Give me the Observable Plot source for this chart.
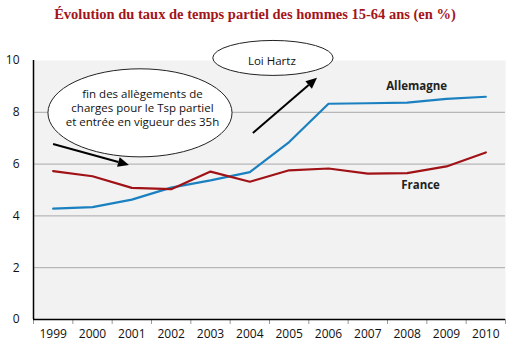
<!DOCTYPE html>
<html>
<head>
<meta charset="utf-8">
<script src="https://cdn.jsdelivr.net/npm/d3@7"></script>
<script src="https://cdn.jsdelivr.net/npm/@observablehq/plot@0.6"></script>
<style>
  html, body { margin: 0; padding: 0; background: #fff; }
  #title { width: 510px; height: 30px; box-sizing: border-box; padding-top: 6px; text-align: center;
    font-family: "Liberation Serif", "DejaVu Serif", serif; font-weight: bold; font-size: 14.5px; color: #a3141c; }
  svg { display: block; }
</style>
</head>
<body>
<div id="title">Évolution du taux de temps partiel des hommes 15-64 ans (en %)</div>
<div id="chart"></div>
<script>
const years = [1999, 2000, 2001, 2002, 2003, 2004, 2005, 2006, 2007, 2008, 2009, 2010];
const allemagne = [4.28, 4.34, 4.63, 5.09, 5.37, 5.69, 6.85, 8.33, 8.35, 8.37, 8.52, 8.60];
const france = [5.73, 5.53, 5.08, 5.03, 5.71, 5.32, 5.76, 5.83, 5.63, 5.65, 5.91, 6.45];
const yTicks = [0, 2, 4, 6, 8, 10];
const gridValues = [2, 4, 6, 8];

const rows = [
  ...years.map((y, i) => ({year: y, value: allemagne[i], pays: "Allemagne"})),
  ...years.map((y, i) => ({year: y, value: france[i], pays: "France"}))
];
const boundaries = [...years.map(y => y - 0.5), years[years.length - 1] + 0.5];

// annotations (data coordinates)
const ellipses = [
  {x: 2001.22, y: 7.96, rx: 2.34, ry: 1.70},
  {x: 2004.6, y: 10.08, rx: 1.53, ry: 0.675}
];
const notes = [
  {x: 2001.27, y: 8.18, text: "fin des allègements de\ncharges pour le Tsp partiel\net entrée en vigueur des 35h"},
  {x: 2004.56, y: 10.0, text: "Loi Hartz"}
];
const arrows = [
  {x1: 1999.01, y1: 6.76, x2: 2000.94, y2: 5.95},
  {x1: 2004.09, y1: 7.18, x2: 2005.72, y2: 9.31}
];
const seriesLabels = [
  {x: 2008.24, y: 9.0, text: "Allemagne"},
  {x: 2008.34, y: 5.18, text: "France"}
];

function annotationLayer(index, scales) {
  const sc = (scales && scales.x) ? scales : index;
  const g = d3.create("svg:g");
  for (const e of ellipses) {
    const cx = sc.x(e.x), cy = sc.y(e.y);
    const rx = Math.abs(sc.x(e.x + e.rx) - cx), ry = Math.abs(sc.y(e.y + e.ry) - cy);
    g.append("ellipse").attr("cx", cx).attr("cy", cy).attr("rx", rx).attr("ry", ry)
      .attr("fill", "#fff").attr("stroke", "#222").attr("stroke-width", 1);
  }
  for (const a of arrows) {
    const x1 = sc.x(a.x1), y1 = sc.y(a.y1), x2 = sc.x(a.x2), y2 = sc.y(a.y2);
    const ang = Math.atan2(y2 - y1, x2 - x1);
    const L = 11, W = 5;
    const bx = x2 - L * Math.cos(ang), by = y2 - L * Math.sin(ang);
    g.append("line").attr("x1", x1).attr("y1", y1).attr("x2", bx).attr("y2", by)
      .attr("stroke", "#000").attr("stroke-width", 2);
    const px = -Math.sin(ang) * W, py = Math.cos(ang) * W;
    g.append("polygon").attr("points", `${x2},${y2} ${bx + px},${by + py} ${bx - px},${by - py}`)
      .attr("fill", "#000");
  }
  return g.node();
}

const chart = Plot.plot({
  width: 510,
  height: 315,
  marginTop: 30,
  marginBottom: 26,
  marginLeft: 33,
  marginRight: 5,
  style: {fontFamily: "'Open Sans', sans-serif", background: "#fff", overflow: "visible"},
  x: {domain: [years[0] - 0.5, years[years.length - 1] + 0.5]},
  y: {domain: [0, 10]},
  color: {domain: ["Allemagne", "France"], range: ["#1a80c0", "#a01216"]},
  marks: [
    Plot.frame({fill: "#f2f2f2", stroke: "none"}),
    Plot.ruleY(gridValues, {stroke: "#a8a8a8", strokeWidth: 1}),
    Plot.axisX({ticks: boundaries, tickSize: 5, tickFormat: () => "", stroke: "#999"}),
    Plot.axisX({ticks: years, tickSize: 0, tickPadding: 10, tickFormat: d => String(d), fontSize: 12, fill: "#111", style: {letterSpacing: "0.6px"}}),
    Plot.axisY({ticks: yTicks, tickSize: 0, tickPadding: 14, fontSize: 12, fill: "#111"}),
    Plot.line(rows, {x: "year", y: "value", z: "pays", stroke: "pays", strokeWidth: 2.2}),
    Plot.ruleY([0], {stroke: "#000", strokeWidth: 1.5}),
    Plot.ruleX([years[0] - 0.5], {stroke: "#000", strokeWidth: 1.5}),
    annotationLayer,
    Plot.text(notes, {x: "x", y: "y", text: "text", fontSize: 11.5, lineHeight: 1.22, fill: "#111", textAnchor: "middle", style: {letterSpacing: "0.55px"}}),
    Plot.text(seriesLabels, {x: "x", y: "y", text: "text", fontSize: 11.5, fontWeight: "bold", fill: "#222", style: {letterSpacing: "1px"}})
  ]
});
document.getElementById("chart").appendChild(chart);
</script>
</body>
</html>
